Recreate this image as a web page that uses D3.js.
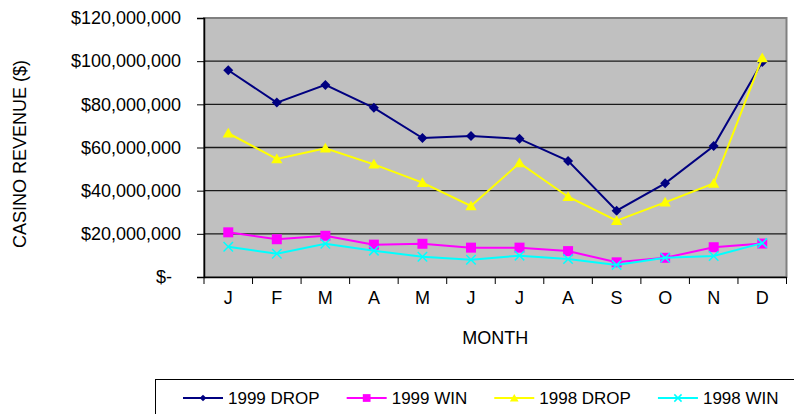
<!DOCTYPE html>
<html>
<head>
<meta charset="utf-8">
<script src="https://cdn.jsdelivr.net/npm/d3@7"></script>
<style>
  body { margin: 0; background: #fff; }
  svg text { font-family: Arial, "Liberation Sans", sans-serif; fill: #000; }
</style>
</head>
<body>
<svg id="chart" width="794" height="414"></svg>
<script>
// monthly casino revenue, millions of dollars
const months = ['J', 'F', 'M', 'A', 'M', 'J', 'J', 'A', 'S', 'O', 'N', 'D']
const drop1999 = [95.8, 80.8, 89.0, 78.4, 64.4, 65.3, 64.0, 53.8, 30.7, 43.4, 60.7, 99.6]
const win1999 = [20.7, 17.5, 19.1, 15.0, 15.4, 13.6, 13.6, 12.0, 6.8, 8.9, 13.8, 15.5]
const drop1998 = [66.6, 54.7, 59.6, 52.2, 43.7, 32.9, 52.8, 37.2, 26.1, 34.6, 43.3, 101.5]
const win1998 = [14.0, 10.8, 15.4, 12.2, 9.4, 8.0, 9.9, 8.3, 5.6, 8.9, 9.7, 15.7]
const yTicks = [0, 20, 40, 60, 80, 100, 120]

const seriesNames = ['1999 DROP', '1999 WIN', '1998 DROP', '1998 WIN']

class RevenueChart {

  svg = null

  left = 204
  right = 786.5
  top = 18
  bottom = 277

  series = [
    { name: seriesNames[0], values: drop1999, color: '#000080', symbol: 'diamond' },
    { name: seriesNames[1], values: win1999, color: '#ff00ff', symbol: 'square' },
    { name: seriesNames[2], values: drop1998, color: '#ffff00', symbol: 'triangle' },
    { name: seriesNames[3], values: win1998, color: '#00ffff', symbol: 'x' }
  ]

  constructor() {
    this.svg = d3.select('#chart')

    this.x = d3.scaleBand()
      .domain(months.map((m, i) => i))
      .range([this.left, this.right])

    this.y = d3.scaleLinear()
      .domain([0, 120])
      .range([this.bottom, this.top])

    this.RenderPlotArea()
    this.RenderAxes()
    this.RenderSeries()
    this.RenderLegend()
  }

  MarkerPath = (symbol, scale) => {
    const types = {
      diamond: [d3.symbolSquare, 50],
      square: [d3.symbolSquare, 100],
      triangle: [d3.symbolTriangle, 55],
      x: [d3.symbolX, 60]
    }
    const [type, size] = types[symbol]
    return d3.symbol().type(type).size(size * scale)()
  }

  DrawMarker = (g, s, scale) => {
    const path = g.append('path')
      .attr('d', this.MarkerPath(s.symbol, scale))
    if (s.symbol === 'x') {
      path.attr('fill', 'none').attr('stroke', s.color).attr('stroke-width', 1.5)
    } else {
      path.attr('fill', s.color)
    }
    if (s.symbol === 'diamond') path.attr('transform', 'rotate(45)')
    if (s.symbol === 'triangle') path.attr('transform', 'translate(0,1)')
    return path
  }

  RenderPlotArea = () => {
    this.svg.append('rect')
      .attr('x', this.left)
      .attr('y', this.top)
      .attr('width', this.right - this.left)
      .attr('height', this.bottom - this.top)
      .attr('fill', '#c0c0c0')
      .attr('stroke', '#808080')
      .attr('stroke-width', 2)

    // gridlines
    this.svg.append('g')
      .selectAll('line')
      .data(yTicks.filter(t => t > 0 && t < 120))
      .join('line')
      .attr('x1', this.left)
      .attr('x2', this.right)
      .attr('y1', d => this.y(d))
      .attr('y2', d => this.y(d))
      .attr('stroke', '#1a1a1a')
      .attr('stroke-width', 1.3)
  }

  RenderAxes = () => {
    const fmt = d3.format(',')
    const yAxis = this.svg.append('g')
      .attr('transform', `translate(${this.left},0)`)
      .call(d3.axisLeft(this.y)
        .tickValues(yTicks)
        .tickSize(7)
        .tickPadding(16)
        .tickFormat(d => d === 0 ? '$-' : '$' + fmt(d * 1e6)))
    yAxis.select('.domain').attr('stroke', '#000').attr('stroke-width', 1.5)
    yAxis.selectAll('text')
      .attr('font-size', 18)
      .attr('font-family', 'Arial, "Liberation Sans", sans-serif')
      .attr('dx', d => d === 0 ? -9 : 0)

    const xAxis = this.svg.append('g')
      .attr('transform', `translate(0,${this.bottom})`)
      .call(d3.axisBottom(this.x)
        .tickSize(0)
        .tickPadding(14)
        .tickFormat(i => months[i]))
    xAxis.select('.domain').attr('stroke', '#000').attr('stroke-width', 1.5)
    xAxis.selectAll('text')
      .attr('font-size', 18)
      .attr('font-family', 'Arial, "Liberation Sans", sans-serif')

    // tick marks sit between months
    const bounds = d3.range(months.length + 1)
      .map(i => this.left + i * this.x.step())
    xAxis.append('g')
      .selectAll('line')
      .data(bounds)
      .join('line')
      .attr('x1', d => d)
      .attr('x2', d => d)
      .attr('y1', 0)
      .attr('y2', 7)
      .attr('stroke', '#000')

    this.svg.append('text')
      .text('MONTH')
      .attr('x', (this.left + this.right) / 2)
      .attr('y', 344)
      .attr('text-anchor', 'middle')
      .attr('font-size', 18)

    this.svg.append('text')
      .text('CASINO REVENUE ($)')
      .attr('transform', 'translate(26,154) rotate(-90)')
      .attr('text-anchor', 'middle')
      .attr('font-size', 18)
  }

  RenderSeries = () => {
    const cx = i => this.x(i) + this.x.bandwidth() / 2
    const line = d3.line()
      .x((d, i) => cx(i))
      .y(d => this.y(d))

    this.series.forEach(s => {
      const g = this.svg.append('g').classed('series', true)
      g.append('path')
        .datum(s.values)
        .attr('d', line)
        .attr('fill', 'none')
        .attr('stroke', s.color)
        .attr('stroke-width', 2)

      g.selectAll('g.marker')
        .data(s.values)
        .join('g')
        .classed('marker', true)
        .attr('transform', (d, i) => `translate(${cx(i)},${this.y(d)})`)
        .each((d, i, nodes) => this.DrawMarker(d3.select(nodes[i]), s, 1))
    })
  }

  RenderLegend = () => {
    const legend = this.svg.append('g').classed('legend', true)
    legend.append('rect')
      .attr('x', 155.5)
      .attr('y', 379.5)
      .attr('width', 700)
      .attr('height', 100)
      .attr('fill', '#fff')
      .attr('stroke', '#000')

    let x = 183
    const ly = 398
    this.series.forEach(s => {
      const item = legend.append('g').attr('transform', `translate(${x},${ly})`)
      item.append('line')
        .attr('x1', 0)
        .attr('x2', 40)
        .attr('stroke', s.color)
        .attr('stroke-width', 2)
      const m = item.append('g').attr('transform', 'translate(20,0)')
      this.DrawMarker(m, s, s.symbol === 'diamond' ? 0.45 : 0.6)
      const t = item.append('text')
        .text(s.name)
        .attr('x', 45)
        .attr('y', 6)
        .attr('font-size', 17)
      x += 45 + t.node().getComputedTextLength() + 27
    })
  }
}

new RevenueChart()
</script>
</body>
</html>
